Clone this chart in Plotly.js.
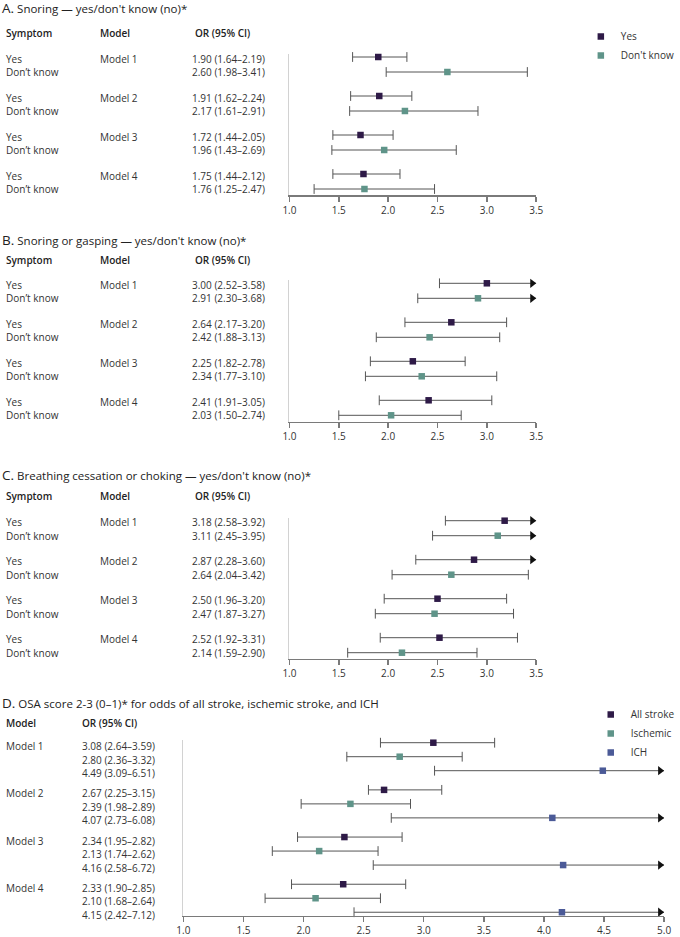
<!DOCTYPE html>
<html><head><meta charset="utf-8">
<script src="https://cdn.plot.ly/plotly-3.0.1.min.js"></script>
<style>html,body{margin:0;padding:0;background:#fff}</style>
</head><body><div id="chart" style="width:680px;height:937px"></div>
<script>
// ---------------- DATA ----------------
const models = ["Model 1", "Model 2", "Model 3", "Model 4"];
const symptomLabels = ["Yes", "Don’t know"];
const legendAB = ["Yes", "Don't know"];
const legendD = ["All stroke", "Ischemic", "ICH"];
const xTicks = [1.0, 1.5, 2.0, 2.5, 3.0, 3.5];
const xTicksD = [1.0, 1.5, 2.0, 2.5, 3.0, 3.5, 4.0, 4.5, 5.0];

// A. Snoring
const aYesOR = [1.90, 1.91, 1.72, 1.75], aYesLo = [1.64, 1.62, 1.44, 1.44], aYesHi = [2.19, 2.24, 2.05, 2.12];
const aDkOR  = [2.60, 2.17, 1.96, 1.76], aDkLo  = [1.98, 1.61, 1.43, 1.25], aDkHi  = [3.41, 2.91, 2.69, 2.47];
// B. Snoring or gasping
const bYesOR = [3.00, 2.64, 2.25, 2.41], bYesLo = [2.52, 2.17, 1.82, 1.91], bYesHi = [3.58, 3.20, 2.78, 3.05];
const bDkOR  = [2.91, 2.42, 2.34, 2.03], bDkLo  = [2.30, 1.88, 1.77, 1.50], bDkHi  = [3.68, 3.13, 3.10, 2.74];
// C. Breathing cessation or choking
const cYesOR = [3.18, 2.87, 2.50, 2.52], cYesLo = [2.58, 2.28, 1.96, 1.92], cYesHi = [3.92, 3.60, 3.20, 3.31];
const cDkOR  = [3.11, 2.64, 2.47, 2.14], cDkLo  = [2.45, 2.04, 1.87, 1.59], cDkHi  = [3.95, 3.42, 3.27, 2.90];
// D. OSA score
const dAllOR  = [3.08, 2.67, 2.34, 2.33], dAllLo  = [2.64, 2.54, 1.95, 1.90], dAllHi  = [3.59, 3.15, 2.82, 2.85];
const dAllLoPrinted = [2.64, 2.25, 1.95, 1.90];
const dIschOR = [2.80, 2.39, 2.13, 2.10], dIschLo = [2.36, 1.98, 1.74, 1.68], dIschHi = [3.32, 2.89, 2.62, 2.64];
const dIchOR  = [4.49, 4.07, 4.16, 4.15], dIchLo  = [3.09, 2.73, 2.58, 2.42], dIchHi  = [6.51, 6.08, 6.72, 7.12];

// ---------------- STYLE / LAYOUT ----------------
const W = 680, H = 937;
const FONT = "Open Sans, Noto Sans, sans-serif";
const C_YES = "#2e1a47", C_DK = "#5f9489", C_ICH = "#4b5a97";
const LINE_C = "#555555", TXT = "#333333";
const px = v => v / W, py = v => 1 - v / H;
const fmt = v => v.toFixed(2);
const ciLabel = (o, l, h) => fmt(o) + " (" + fmt(l) + "–" + fmt(h) + ")";

const panels = [
  {letter: "A.", title: "Snoring — yes/don't know (no)*", titleY: 7.5, headY: 33, top: 54, bottom: 195, ax: ""},
  {letter: "B.", title: "Snoring or gasping — yes/don't know (no)*", titleY: 240, headY: 260, top: 280.3, bottom: 421.5, ax: "2"},
  {letter: "C.", title: "Breathing cessation or choking — yes/don't know (no)*", titleY: 475, headY: 496, top: 517.7, bottom: 658.5, ax: "3"},
];
panels[0].series = [[aYesOR, aYesLo, aYesHi], [aDkOR, aDkLo, aDkHi]];
panels[1].series = [[bYesOR, bYesLo, bYesHi], [bDkOR, bDkLo, bDkHi]];
panels[2].series = [[cYesOR, cYesLo, cYesHi], [cDkOR, cDkLo, cDkHi]];
const colorsAB = [C_YES, C_DK];
const colorsD = [C_YES, C_DK, C_ICH];

const traces = [], annotations = [], layout = {
  width: W, height: H, margin: {l: 0, r: 0, t: 0, b: 0},
  paper_bgcolor: "#fff", plot_bgcolor: "#fff",
  font: {family: FONT, size: 10, color: TXT},
  showlegend: true,
  legend: {x: px(586), xanchor: "left", y: py(22), yanchor: "top", font: {size: 10, color: TXT},
           bgcolor: "rgba(0,0,0,0)", borderwidth: 0, itemwidth: 30, traceorder: "normal"},
  legend2: {x: px(596), xanchor: "left", y: py(700), yanchor: "top", font: {size: 10, color: TXT},
           bgcolor: "rgba(0,0,0,0)", borderwidth: 0, itemwidth: 30, traceorder: "normal"},
  annotations: annotations
};

function axisPair(ax, xDom, yTop, yBottom, xRange, ticks, unitPx, firstRowPx) {
  const xa = "xaxis" + ax, ya = "yaxis" + ax;
  layout[xa] = {domain: xDom, range: xRange, anchor: "y" + ax, tickvals: ticks, tickformat: ".1f",
    showline: true, linecolor: "#7a7a7a", linewidth: 1.5, ticks: "outside", ticklen: 5, tickwidth: 1.5,
    tickcolor: "#7a7a7a", showgrid: false, zeroline: false, tickfont: {size: 10, color: TXT}, fixedrange: true};
  const r0 = -(firstRowPx - yTop) / unitPx;
  const r1 = r0 + (yBottom - yTop) / unitPx;
  layout[ya] = {domain: [py(yBottom), py(yTop)], range: [r1, r0], anchor: "x" + ax,
    showline: true, linecolor: "#d2d2d2", linewidth: 1.5, showticklabels: false, ticks: "",
    showgrid: false, zeroline: false, fixedrange: true};
}

function addSeries(ax, ors, los, his, rows, xmax, arrowOff, color, name, legend, showLeg) {
  const lx = [], ly = [], cx = [], cy = [], arx = [], ary = [];
  ors.forEach((o, k) => {
    const hi = Math.min(his[k], xmax);
    lx.push(los[k], hi, null); ly.push(rows[k], rows[k], null);
    cx.push(los[k]); cy.push(rows[k]);
    if (his[k] <= xmax) { cx.push(his[k]); cy.push(rows[k]); }
    else { arx.push(xmax - arrowOff); ary.push(rows[k]); }
  });
  const base = {xaxis: "x" + ax, yaxis: "y" + ax, hoverinfo: "skip", showlegend: false, cliponaxis: false};
  traces.push(Object.assign({}, base, {type: "scatter", mode: "lines", x: lx, y: ly, line: {color: LINE_C, width: 1}}));
  traces.push(Object.assign({}, base, {type: "scatter", mode: "markers", x: cx, y: cy,
    marker: {symbol: "line-ns", size: 7, line: {color: LINE_C, width: 1}}}));
  if (arx.length) traces.push(Object.assign({}, base, {type: "scatter", mode: "markers", x: arx, y: ary,
    marker: {symbol: "triangle-right", size: 8, color: "#111"}}));
  traces.push(Object.assign({}, base, {type: "scatter", mode: "markers", x: ors, y: rows, name: name,
    showlegend: showLeg, legend: legend || "legend",
    marker: {symbol: "square", size: 6.5, color: color, line: {width: 0}}}));
}

function ann(text, x, y, yref, opts) {
  annotations.push(Object.assign({text: text, x: x, y: y, xref: "paper", yref: yref || "paper",
    xanchor: "left", yanchor: "middle", showarrow: false, borderpad: 0,
    font: {size: 10, color: TXT}}, opts || {}));
}

// ---------- Panels A-C ----------
const xDomAC = [px(292), px(541)];
panels.forEach((P, pi) => {
  axisPair(P.ax, xDomAC, P.top, P.bottom, [1, 3.5], xTicks, 15, P.top + 3);
  const rowOf = (g, i) => g * 2.6 + i;
  P.series.forEach((s, si) => {
    const rows = models.map((m, g) => rowOf(g, si));
    addSeries(P.ax, s[0], s[1], s[2], rows, 3.5, 0.04, colorsAB[si], legendAB[si], "legend", pi === 0);
  });
  // titles and headers
  ann('<span style="font-size:13.5px">' + P.letter + '</span> ' + P.title, px(1), py(P.titleY), "paper",
      {font: {size: 11.5, color: "#222"}});
  const hf = {font: {size: 10, color: "#222", weight: 600}};
  ann("Symptom", px(5), py(P.headY), "paper", hf);
  ann("Model", px(99.5), py(P.headY), "paper", hf);
  ann("OR (95% CI)", px(195.5), py(P.headY), "paper", hf);
  models.forEach((m, g) => {
    const yr = "y" + P.ax;
    P.series.forEach((s, si) => {
      const shift = si === 0 ? -1.5 : 0;
      ann(symptomLabels[si], px(5), rowOf(g, si), yr, {yshift: shift});
      ann(ciLabel(s[0][g], s[1][g], s[2][g]), px(192.5), rowOf(g, si), yr, {yshift: shift});
    });
    ann(m, px(99.5), rowOf(g, 0), yr, {yshift: -1.5});
  });
});

// ---------- Panel D ----------
axisPair("4", [px(185), px(670)], 739.9, 915.7, [1, 5], xTicksD, 14, 742.7);
const rowD = (g, i) => g * 3.37 + i;
const dSeries = [[dAllOR, dAllLo, dAllHi, dAllLoPrinted], [dIschOR, dIschLo, dIschHi, dIschLo], [dIchOR, dIchLo, dIchHi, dIchLo]];
dSeries.forEach((s, si) => {
  const rows = models.map((m, g) => rowD(g, si));
  addSeries("4", s[0], s[1], s[2], rows, 5, 0.033, colorsD[si], legendD[si], "legend2", true);
});
ann('<span style="font-size:13.5px">D.</span> OSA score 2-3 (0–1)* for odds of all stroke, ischemic stroke, and ICH',
    px(1), py(702.5), "paper", {font: {size: 11.5, color: "#222"}});
ann("Model", px(5), py(722.5), "paper", {font: {size: 10, color: "#222", weight: 600}});
ann("OR (95% CI)", px(82), py(722.5), "paper", {font: {size: 10, color: "#222", weight: 600}});
const dShift = [-3.5, -3, -2.5];
models.forEach((m, g) => {
  ann(m, px(5), rowD(g, 0), "y4", {yshift: dShift[0]});
  dSeries.forEach((s, si) => {
    ann(ciLabel(s[0][g], s[3][g], s[2][g]), px(82), rowD(g, si), "y4", {yshift: dShift[si]});
  });
});

Plotly.newPlot("chart", traces, layout, {staticPlot: true, displayModeBar: false});
</script></body></html>
